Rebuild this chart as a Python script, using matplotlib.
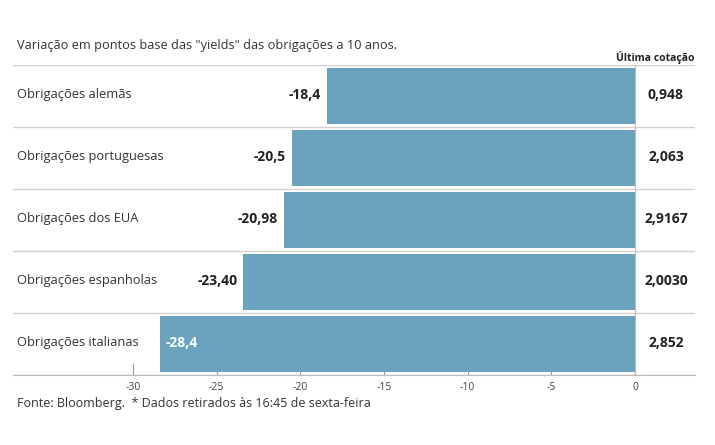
import matplotlib.pyplot as plt
from matplotlib import font_manager

#--------------------# DONNÉES #--------------------#

categorias = ["Obrigações alemãs", "Obrigações portuguesas", "Obrigações dos EUA",
              "Obrigações espanholas", "Obrigações italianas"]
variacao = [-18.4, -20.5, -20.98, -23.40, -28.4]
rotulos_variacao = ["-18,4", "-20,5", "-20,98", "-23,40", "-28,4"]
ultima_cotacao = ["0,948", "2,063", "2,9167", "2,0030", "2,852"]
ticks = [-30, -25, -20, -15, -10, -5, 0]

#--------------------# STYLE #--------------------#

noms = {f.name for f in font_manager.fontManager.ttflist}
police = next((p for p in ["Liberation Sans Narrow", "Open Sans", "Lato"] if p in noms), "DejaVu Sans")
plt.rcParams['font.family'] = [police, 'DejaVu Sans']

bleu = '#6aa3be'
gris_ligne = '#d2d2d2'
texte = '#222222'

W, H = 715, 445
fig = plt.figure(figsize=(W / 100, H / 100), dpi=100)
ax = fig.add_axes([13 / W, (H - 375) / H, (695 - 13) / W, (375 - 65) / H])

n = len(categorias)
ys = list(range(n))
ax.barh(ys, variacao, height=0.9, color=bleu, zorder=2)

x0 = 635
px = (635 - 133) / 30
ax.set_xlim((13 - x0) / px, (695 - x0) / px)
ax.set_ylim(n - 0.5, -0.5)
ax.set_axisbelow(True)

# séparateurs
for i in range(n + 1):
    ax.axhline(i - 0.5, color=gris_ligne, lw=1, zorder=1)
ax.axvline(0, color='#bbbbbb', lw=0.8, zorder=1)

for s in ['top', 'right', 'left']:
    ax.spines[s].set_visible(False)
ax.spines['bottom'].set_color('#bbbbbb')
ax.set_yticks([])
ax.set_xticks(ticks)
ax.set_xticklabels([str(t) for t in ticks])
ax.tick_params(axis='x', direction='in', length=9, color='#999999', labelsize=7.5,
               labelcolor='#444444', pad=5)

trans = ax.get_yaxis_transform()
for i, (cat, v, lab, cot) in enumerate(zip(categorias, variacao, rotulos_variacao, ultima_cotacao)):
    ax.text(4 / 682, i - 0.02, cat, transform=trans,
            ha='left', va='center', fontsize=9.3, color='#333333')
    if v < -25:
        ax.text(v + 0.35, i - 0.02, lab, ha='left', va='center', fontsize=10,
                fontweight='bold', color='white')
    else:
        ax.text(v - 0.35, i - 0.02, lab, ha='right', va='center', fontsize=10,
                fontweight='bold', color=texte)
    ax.text(1.85, i - 0.02, cot, ha='center', va='center', fontsize=10,
            fontweight='bold', color=texte)

fig.text(17 / W, 1 - 45 / H, 'Variação em pontos base das "yields" das obrigações a 10 anos.',
         ha='left', va='center', fontsize=9.2, color='#333333')
fig.text(695 / W, 1 - 57 / H, 'Última cotação', ha='right', va='center',
         fontsize=7.5, fontweight='bold', color=texte)
fig.text(17 / W, 1 - 404 / H, 'Fonte: Bloomberg.  * Dados retirados às 16:45 de sexta-feira',
         ha='left', va='center', fontsize=9, color='#333333')

fig.savefig('out.png', dpi=100)
